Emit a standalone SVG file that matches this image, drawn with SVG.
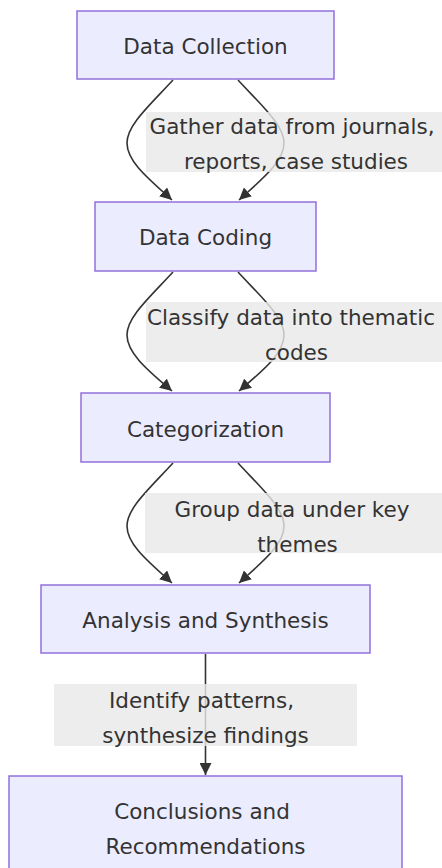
<svg xmlns="http://www.w3.org/2000/svg" width="442" height="868" viewBox="0 0 442 868">
  <defs>
    <marker id="arrow" markerUnits="userSpaceOnUse" markerWidth="12" markerHeight="12" refX="10" refY="5" viewBox="0 0 10 10" orient="auto">
      <path d="M0,0 L10,5 L0,10 z" fill="#333333"/>
    </marker>
  </defs>
  <style>
    .node rect { fill: #ECECFF; stroke: #9370DB; stroke-width: 1.5; }
    .label { font-family: "DejaVu Sans", Verdana, sans-serif; font-size: 21.5px; fill: #333333; text-anchor: middle; }
    .edge { fill: none; stroke: #333333; stroke-width: 1.6; marker-end: url(#arrow); }
    .edge-bg { fill: #e8e8e8; fill-opacity: 0.8; }
  </style>
  <rect width="442" height="868" fill="#ffffff"/>

  <!-- connectors -->
  <g id="connectors">
    <!-- Data Collection -> Data Coding -->
    <path class="edge" d="M173,80 C150,105 127,125 127,143 C127,162 150,180 172,200"/>
    <path class="edge" d="M238,80 C261,105 284,125 284,143 C284,162 261,180 239,200"/>
    <!-- Data Coding -> Categorization -->
    <path class="edge" d="M173,272 C150,297 127,317 127,335 C127,354 150,372 172,391"/>
    <path class="edge" d="M238,272 C261,297 284,317 284,335 C284,354 261,372 239,391"/>
    <!-- Categorization -> Analysis and Synthesis -->
    <path class="edge" d="M173,463 C150,488 127,508 127,526 C127,545 150,563 172,583"/>
    <path class="edge" d="M238,463 C261,488 284,508 284,526 C284,545 261,563 239,583"/>
    <!-- Analysis and Synthesis -> Conclusions -->
    <path class="edge" d="M205.5,654 L205.5,775"/>

    <!-- edge labels -->
    <rect class="edge-bg" x="146" y="112" width="300" height="60"/>
    <text class="label"><tspan x="292" y="134">Gather data from journals,</tspan><tspan x="296" y="169">reports, case studies</tspan></text>
    <rect class="edge-bg" x="146" y="302" width="300" height="60"/>
    <text class="label"><tspan x="291" y="325">Classify data into thematic</tspan><tspan x="296.5" y="360">codes</tspan></text>
    <rect class="edge-bg" x="145" y="493" width="302" height="60"/>
    <text class="label"><tspan x="292" y="516.5">Group data under key</tspan><tspan x="297.5" y="551.5">themes</tspan></text>
    <rect class="edge-bg" x="54" y="684" width="303" height="62"/>
    <text class="label"><tspan x="201.5" y="708">Identify patterns,</tspan><tspan x="205.5" y="743">synthesize findings</tspan></text>
  </g>

  <!-- nodes -->
  <g id="data-collection" class="node">
    <rect x="77" y="11" width="257" height="68"/>
    <text class="label" x="205.5" y="54">Data Collection</text>
  </g>
  <g id="data-coding" class="node">
    <rect x="95" y="202" width="221" height="69"/>
    <text class="label" x="205.5" y="245">Data Coding</text>
  </g>
  <g id="categorization" class="node">
    <rect x="81" y="393" width="249" height="69"/>
    <text class="label" x="205.5" y="436.5">Categorization</text>
  </g>
  <g id="analysis-synthesis" class="node">
    <rect x="41" y="585" width="329" height="68"/>
    <text class="label" x="205.5" y="628">Analysis and Synthesis</text>
  </g>
  <g id="conclusions" class="node">
    <rect x="9" y="776" width="393" height="110"/>
    <text class="label"><tspan x="202" y="819">Conclusions and</tspan><tspan x="205.5" y="854">Recommendations</tspan></text>
  </g>
</svg>
